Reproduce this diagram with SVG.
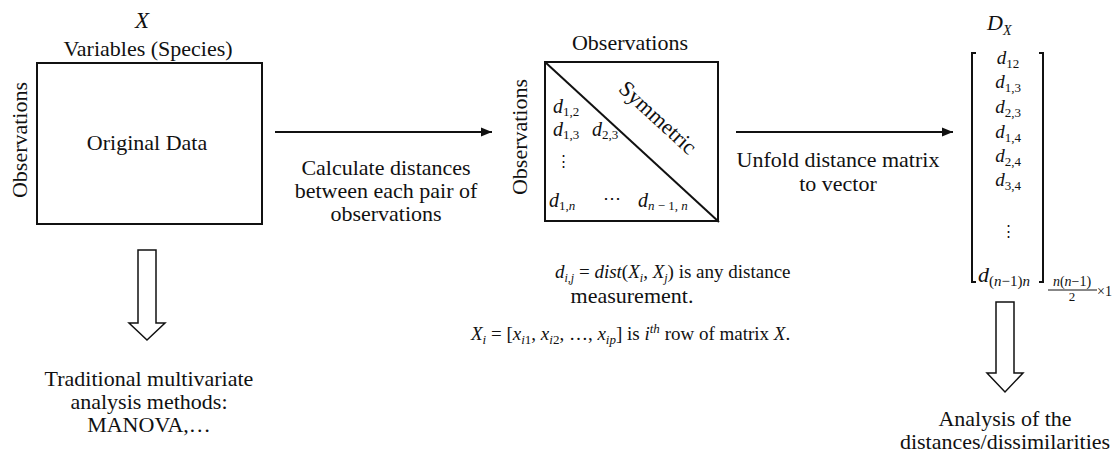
<svg xmlns="http://www.w3.org/2000/svg" width="1118" height="456" viewBox="0 0 1118 456">
<style>
.t{font-family:"Liberation Serif","Times New Roman",serif;font-size:22px;fill:#111;}
.nt{font-family:"Liberation Serif","Times New Roman",serif;font-size:19px;fill:#111;}
.m{font-family:"Liberation Serif","Times New Roman",serif;font-style:italic;fill:#111;}
.n{font-family:"Liberation Serif","Times New Roman",serif;font-style:normal;fill:#111;}
.box{fill:#fff;stroke:#111;stroke-width:2;}
.ln{stroke:#111;stroke-width:2;fill:none;}
.blk{fill:#fff;stroke:#111;stroke-width:1.5;}
</style>
<defs>
<marker id="ah" markerUnits="userSpaceOnUse" markerWidth="12" markerHeight="10" refX="11" refY="5" orient="auto">
<path d="M0,0.5 L11,5 L0,9.5 z" fill="#111"/>
</marker>
</defs>

<rect width="1118" height="456" fill="#fff"/>

<g id="original-data">
<text class="m" x="142" y="28" font-size="23" text-anchor="middle">X</text>
<text class="t" x="148" y="56" text-anchor="middle">Variables (Species)</text>
<rect class="box" x="37" y="63" width="225" height="161"/>
<text class="t" transform="translate(27,140) rotate(-90)" text-anchor="middle">Observations</text>
<text class="t" x="147" y="150" text-anchor="middle">Original Data</text>
</g>

<g id="distance-matrix">
<text class="t" x="630" y="50" text-anchor="middle">Observations</text>
<rect class="box" x="545" y="62" width="173" height="159"/>
<line class="ln" x1="545" y1="62" x2="719" y2="222" stroke-width="1.5"/>
<text class="t" transform="translate(519,137) rotate(-90)" text-anchor="middle" dy="8">Observations</text>
<text class="t" transform="translate(653,123) rotate(42.6)" text-anchor="middle">Symmetric</text>
<text class="m" x="553" y="113" font-size="20">d<tspan class="n" font-size="13" dy="3">1,2</tspan></text>
<text class="m" x="553" y="136" font-size="20">d<tspan class="n" font-size="13" dy="3">1,3</tspan></text>
<text class="m" x="592" y="136" font-size="20">d<tspan class="n" font-size="13" dy="3">2,3</tspan></text>
<text x="563" y="166" font-family="DejaVu Serif, serif" font-size="15" text-anchor="middle" fill="#111">⋮</text>
<text class="m" x="549" y="207" font-size="20">d<tspan class="n" font-size="13" dy="3">1,</tspan><tspan font-size="13">n</tspan></text>
<text class="n" x="612" y="204" font-size="18" text-anchor="middle">⋯</text>
<text class="m" x="638" y="207" font-size="20">d<tspan font-size="13" dy="3">n</tspan><tspan class="n" font-size="13"> − 1, </tspan><tspan font-size="13">n</tspan></text>
</g>

<g id="distance-vector">
<text class="m" x="987" y="30" font-size="22">D<tspan font-size="14" dy="5">X</tspan></text>
<path class="ln" d="M976,53 H972 V282 H976"/>
<path class="ln" d="M1039,53 H1043 V282 H1039"/>
<g class="m" font-size="19" text-anchor="middle">
<text x="1008" y="64">d<tspan class="n" font-size="13" dy="4">12</tspan></text>
<text x="1008" y="88">d<tspan class="n" font-size="13" dy="4">1,3</tspan></text>
<text x="1008" y="113">d<tspan class="n" font-size="13" dy="4">2,3</tspan></text>
<text x="1008" y="138">d<tspan class="n" font-size="13" dy="4">1,4</tspan></text>
<text x="1008" y="162">d<tspan class="n" font-size="13" dy="4">2,4</tspan></text>
<text x="1008" y="186">d<tspan class="n" font-size="13" dy="4">3,4</tspan></text>
<text x="1004" y="282" font-size="22">d<tspan class="n" font-size="15" dy="4">(</tspan><tspan font-size="15">n</tspan><tspan class="n" font-size="15">−1)</tspan><tspan font-size="15">n</tspan></text>
</g>
<text x="1008" y="236" font-family="DejaVu Serif, serif" font-size="15" text-anchor="middle" fill="#111">⋮</text>
<text class="m" x="1072" y="286" font-size="14" text-anchor="middle">n<tspan class="n">(</tspan>n<tspan class="n">−1)</tspan></text>
<line x1="1048" y1="290" x2="1097" y2="290" stroke="#111" stroke-width="1"/>
<text class="n" x="1072" y="301" font-size="13" text-anchor="middle">2</text>
<text class="n" x="1097" y="296" font-size="14">×1</text>
</g>

<g id="traditional-analysis">
<text class="t" text-anchor="middle"><tspan x="149" y="386">Traditional multivariate</tspan><tspan x="149" y="409">analysis methods:</tspan><tspan x="149" y="432">MANOVA,…</tspan></text>
</g>

<g id="distance-analysis">
<text class="t" text-anchor="middle"><tspan x="1005" y="426">Analysis of the</tspan><tspan x="1005" y="449">distances/dissimilarities</tspan></text>
</g>

<g id="notes">
<text class="nt" x="555" y="278" font-size="18"><tspan class="m">d</tspan><tspan class="m" font-size="12" dy="4">i</tspan><tspan font-size="12">,</tspan><tspan class="m" font-size="12">j</tspan><tspan dy="-4"> = </tspan><tspan class="m">dist</tspan>(<tspan class="m">X</tspan><tspan class="m" font-size="12" dy="4">i</tspan><tspan dy="-4">, </tspan><tspan class="m">X</tspan><tspan class="m" font-size="12" dy="4">j</tspan><tspan dy="-4">) is any distance</tspan></text>
<text class="t" x="632" y="303" text-anchor="middle" font-size="20">measurement.</text>
<text class="nt" x="471" y="340"><tspan class="m">X</tspan><tspan class="m" font-size="13" dy="4">i</tspan><tspan dy="-4"> = [</tspan><tspan class="m">x</tspan><tspan class="m" font-size="13" dy="4">i</tspan><tspan font-size="13">1</tspan><tspan dy="-4">, </tspan><tspan class="m">x</tspan><tspan class="m" font-size="13" dy="4">i</tspan><tspan font-size="13">2</tspan><tspan dy="-4">, …, </tspan><tspan class="m">x</tspan><tspan class="m" font-size="13" dy="4">ip</tspan><tspan dy="-4">] is </tspan><tspan class="m">i</tspan><tspan class="m" font-size="13" dy="-7">th</tspan><tspan dy="7"> row of matrix </tspan><tspan class="m">X</tspan>.</text>
</g>

<g id="connectors">
<line class="ln" x1="275" y1="132" x2="492" y2="132" marker-end="url(#ah)"/>
<text class="t" text-anchor="middle"><tspan x="386" y="175">Calculate distances</tspan><tspan x="386" y="198">between each pair of</tspan><tspan x="386" y="221">observations</tspan></text>
<line class="ln" x1="736" y1="132" x2="953" y2="132" marker-end="url(#ah)"/>
<text class="t" text-anchor="middle"><tspan x="838" y="167">Unfold distance matrix</tspan><tspan x="838" y="191">to vector</tspan></text>
<polygon class="blk" points="138,250 156,250 156,323 165,323 147,340 129,323 138,323"/>
<polygon class="blk" points="996,302 1014,302 1014,373 1023,373 1005,392 987,373 996,373"/>
</g>
</svg>
